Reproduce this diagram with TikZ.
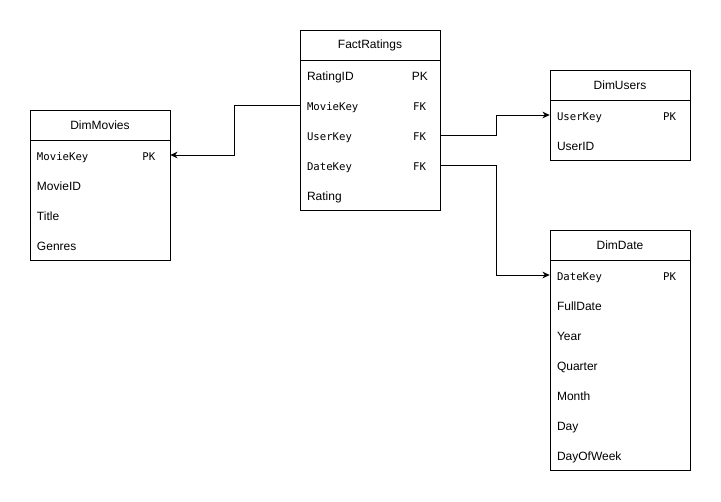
\documentclass[tikz,border=0pt]{standalone}
\usepackage{fontspec}
\setmainfont{Liberation Sans}
\newfontfamily\monof{DejaVu Sans Mono}
\usetikzlibrary{arrows.meta}
\newcommand{\mk}[1]{{\monof\fontsize{8pt}{10pt}\selectfont #1}}
\newcommand{\rk}[2]{\mbox{#1\kern#2}}
\begin{document}
\begin{tikzpicture}[x=0.75pt,y=-0.75pt,
  tbl/.style={draw=black, line width=0.75pt, minimum width=105pt, inner sep=0pt, fill=white},
  ttl/.style={font=\fontsize{9pt}{11pt}\selectfont, inner sep=0pt},
  row/.style={minimum height=22.5pt, text width=105pt, text height=8.5pt, text depth=1pt, inner xsep=0pt, inner ysep=0pt, align=left, font=\fontsize{9pt}{11pt}\selectfont},
  conn/.style={draw=black, line width=0.75pt, -{Stealth[length=5.5pt,width=5pt]}}]
\useasboundingbox (0,0) rectangle (721,501);
% FactRatings
\node[tbl, minimum height=135pt] (fact) at (370,120) {};
\draw[line width=0.75pt] (300,60) -- (440,60);
\node[ttl] (factT) at (370,45) {FactRatings};
\node[row] (fRatingID) at (370,75) {\hspace*{5.25pt}RatingID\hfill\rk{PK}{9pt}};
\node[row] (fMovieKey) at (370,105) {\hspace*{5.25pt}\mk{MovieKey}\hfill\rk{\mk{FK}}{10.5pt}};
\node[row] (fUserKey) at (370,135) {\hspace*{5.25pt}\mk{UserKey}\hfill\rk{\mk{FK}}{10.5pt}};
\node[row] (fDateKey) at (370,165) {\hspace*{5.25pt}\mk{DateKey}\hfill\rk{\mk{FK}}{10.5pt}};
\node[row] (fRating) at (370,195) {\hspace*{5.25pt}Rating};
% DimMovies
\node[tbl, minimum height=112.5pt] (movies) at (100,185) {};
\draw[line width=0.75pt] (30,140) -- (170,140);
\node[ttl] (moviesT) at (100,125) {DimMovies};
\node[row] (mMovieKey) at (100,155) {\hspace*{5.25pt}\mk{MovieKey}\hfill\rk{\mk{PK}}{11pt}};
\node[row] (mMovieID) at (100,185) {\hspace*{5.25pt}MovieID};
\node[row] (mTitle) at (100,215) {\hspace*{5.25pt}Title};
\node[row] (mGenres) at (100,245) {\hspace*{5.25pt}Genres};
% DimUsers
\node[tbl, minimum height=67.5pt] (users) at (620,115) {};
\draw[line width=0.75pt] (550,100) -- (690,100);
\node[ttl] (usersT) at (620,85) {DimUsers};
\node[row] (uUserKey) at (620,115) {\hspace*{5.25pt}\mk{UserKey}\hfill\rk{\mk{PK}}{10.5pt}};
\node[row] (uUserID) at (620,145) {\hspace*{5.25pt}UserID};
% DimDate
\node[tbl, minimum height=180pt] (date) at (620,350) {};
\draw[line width=0.75pt] (550,260) -- (690,260);
\node[ttl] (dateT) at (620,245) {DimDate};
\node[row] (dDateKey) at (620,275) {\hspace*{5.25pt}\mk{DateKey}\hfill\rk{\mk{PK}}{10.5pt}};
\node[row] (dFullDate) at (620,305) {\hspace*{5.25pt}FullDate};
\node[row] (dYear) at (620,335) {\hspace*{5.25pt}Year};
\node[row] (dQuarter) at (620,365) {\hspace*{5.25pt}Quarter};
\node[row] (dMonth) at (620,395) {\hspace*{5.25pt}Month};
\node[row] (dDay) at (620,425) {\hspace*{5.25pt}Day};
\node[row] (dDayOfWeek) at (620,455) {\hspace*{5.25pt}DayOfWeek};
% connectors
\draw[conn] (fMovieKey.west) -- ++(-65,0) |- (mMovieKey.east);
\draw[conn] (fUserKey.east) -- ++(56,0) |- (uUserKey.west);
\draw[conn] (fDateKey.east) -- ++(56,0) |- (dDateKey.west);
\end{tikzpicture}
\end{document}
